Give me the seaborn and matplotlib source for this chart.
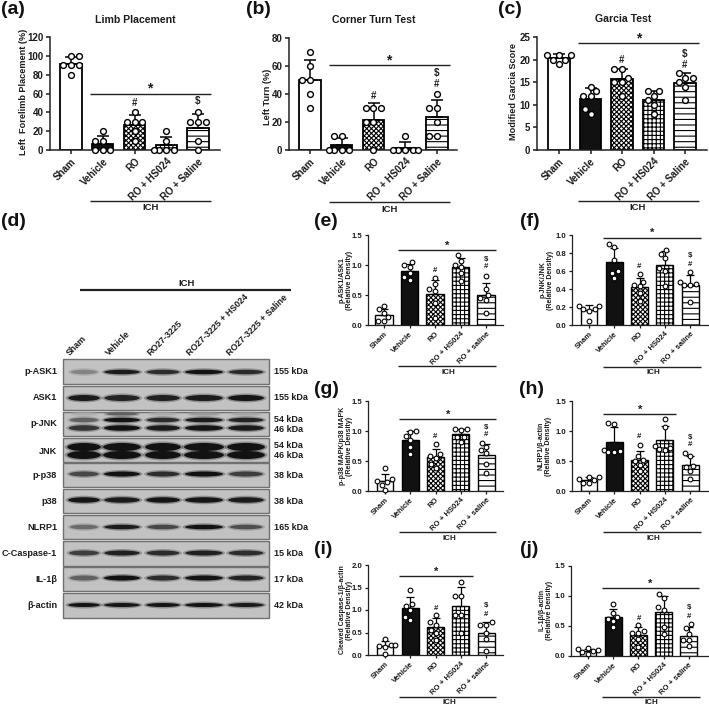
import warnings
import numpy as np
import pandas as pd
import matplotlib
matplotlib.use("Agg")
import matplotlib.pyplot as plt
import matplotlib.ticker
from matplotlib.patches import Ellipse, Rectangle
import seaborn as sns

warnings.filterwarnings("ignore")

# ------------------------------------------------------------ data
groups = ["Sham", "Vehicle", "RO", "RO + HS024", "RO + Saline"]
groups_lc = ["Sham", "Vehicle", "RO", "RO + HS024", "RO + saline"]

limb = [[100, 100, 90, 90, 90, 80], [20, 10, 10, 0, 0, 0], [40, 30, 30, 30, 20, 10],
        [20, 10, 0, 0, 0, 0], [40, 30, 30, 30, 10, 0]]
corner = [[70, 60, 50, 50, 40, 30], [10, 10, 0, 0, 0, 0], [30, 30, 30, 20, 20, 0],
          [10, 0, 0, 0, 0, 0], [40, 30, 30, 20, 10, 10]]
garcia = [[21, 21, 21, 20, 20, 19], [14, 13, 12, 12, 9, 8], [18, 18, 16, 15, 15, 12],
          [13, 13, 12, 11, 10, 8], [17, 16, 16, 15, 14, 11]]
ask1 = [[.31, .26, .2, .13, .06, .06], [1.05, 1.0, .96, .86, .8, .75], [.78, .68, .6, .56, .37, .12],
        [1.16, 1.07, 1.0, .97, .86, .73], [.82, .6, .5, .45, .41, .2]]
jnk = [[.21, .21, .18, .18, .16, .05], [.9, .87, .72, .6, .58, .52], [.57, .48, .44, .43, .36, .27],
       [.83, .79, .74, .63, .6, .43], [.59, .48, .46, .45, .44, .26]]
p38 = [[.38, .2, .17, .15, .1, .02], [1.0, .99, .92, .85, .74, .61], [.78, .62, .58, .55, .45, .38],
       [1.03, 1.03, 1.02, .9, .9, .82], [.8, .73, .68, .63, .45, .3]]
nlrp1 = [[.23, .23, .2, .18, .13, .13], [1.14, 1.12, .68, .66, .65, .65], [.77, .58, .52, .5, .44, .33],
         [1.2, 1.07, .75, .72, .7, .68], [.63, .58, .42, .4, .33, .2]]
casp1 = [[.35, .22, .22, .2, .17, .02], [1.45, 1.13, 1.1, 1.0, .85, .78], [.9, .74, .67, .56, .48, .33],
         [1.63, 1.32, 1.32, .9, .9, .48], [.73, .67, .67, .48, .35, .09]]
il1b = [[.13, .12, .1, .08, .07, .03], [.87, .72, .65, .62, .58, .48], [.51, .41, .39, .39, .29, .15],
        [1.03, .96, .81, .76, .49, .37], [.53, .46, .37, .26, .26, .16]]

# blot band intensity per lane
lanes = ["Sham", "Vehicle", "RO27-3225", "RO27-3225 + HS024", "RO27-3225 + Saline"]
blot_names = ["p-ASK1", "ASK1", "p-JNK", "JNK", "p-p38", "p38", "NLRP1", "C-Caspase-1", "IL-1β", "β-actin"]
blot_kda = ["155 kDa", "155 kDa", "54 kDa\n46 kDa", "54 kDa\n46 kDa", "38 kDa", "38 kDa",
            "165 kDa", "15 kDa", "17 kDa", "42 kDa"]
i_pask1 = [.35, .95, .85, 1, .85]
i_ask1 = [.95, .9, .92, .95, .98]
i_pjnk_top = [.12, .55, .12, .22, .15]
i_pjnk_54 = [.55, 1, .85, .95, .9]
i_pjnk_46 = [.8, 1, .95, .98, .95]
i_jnk = [1, 1, 1, 1, 1]
i_pp38 = [.7, 1, .85, 1, .75]
i_p38 = [.98, .95, .98, .98, .95]
i_nlrp1 = [.5, .95, .7, 1, .65]
i_casp = [.75, .92, .85, .92, .85]
i_il1b = [.55, 1, .85, .98, .9]
i_actin = [.98, .98, .98, 1, .95]

# ------------------------------------------------------------ style
sns.set_theme(style="ticks")
plt.rcParams["font.family"] = ["Liberation Sans", "DejaVu Sans"]
plt.rcParams["font.weight"] = "bold"
plt.rcParams["hatch.linewidth"] = 0.8
INK = "#1c1c1c"
W, H = 709, 707
fig = plt.figure(figsize=(7.09, 7.07), dpi=100)
ov = fig.add_axes([0, 0, 1, 1], zorder=5)
ov.set_xlim(0, W)
ov.set_ylim(H, 0)
ov.axis("off")
ov.patch.set_alpha(0)


def T(x, y, s, size=7, **kw):
    kw.setdefault("ha", "center")
    kw.setdefault("va", "center")
    kw.setdefault("color", INK)
    ov.text(x, y, s, fontsize=size, fontweight="bold", **kw)


def L(x0, x1, y, lw=1.0):
    ov.plot([x0, x1], [y, y], color="#222222", lw=lw, solid_capstyle="butt")


HATCH = [None, None, "xxxxxxx", "++++", "---"]
FILL = ["white", "#111111", "white", "white", "white"]


def panel(values, names, box, ymax, step, ylabel, ylab_xy, big, fmt="%g",
          hatch=HATCH):
    xl, xr, y0, yt, c0, s = box
    fs = 7 if big else 5.6
    ax = fig.add_axes([xl / W, 1 - y0 / H, (xr - xl) / W, (y0 - yt) / H])
    df = pd.DataFrame({"group": [names[i] for i, v in enumerate(values) for _ in v],
                       "value": [x for v in values for x in v]})
    sns.barplot(data=df, x="group", y="value", order=names, errorbar=None, ax=ax,
                color="white", width=0.67, edgecolor="black",
                linewidth=1.3 if big else 1.0)
    for p, h, f in zip(ax.patches, hatch, FILL):
        p.set_facecolor(f)
        p.set_edgecolor("black")
        if h:
            p.set_hatch(h)
    stats = df.groupby("group", sort=False)["value"].agg(["mean", "std"])
    ax.errorbar(range(5), stats["mean"], yerr=[np.zeros(5), stats["std"]], fmt="none",
                ecolor="black", elinewidth=1.1 if big else .9, capsize=4 if big else 3,
                capthick=1.1 if big else .9, zorder=4)
    sns.swarmplot(data=df, x="group", y="value", order=names, ax=ax, color="white",
                  edgecolor="black", linewidth=1.0 if big else .8, size=4.2 if big else 3.4,
                  zorder=6, clip_on=False)
    ax.set_xlim((xl - c0) / s, (xr - c0) / s)
    ax.set_ylim(0, ymax)
    ax.set_yticks(np.arange(0, ymax + step / 2, step))
    ax.yaxis.set_major_formatter(matplotlib.ticker.FormatStrFormatter(fmt))
    ax.set_xlabel("")
    ax.tick_params(axis="both", length=3.2 if big else 2.5, width=1.1 if big else .9,
                   labelsize=fs, pad=1.5, colors=INK)
    ax.set_xticks(range(5))
    ax.set_xticklabels(names, rotation=45, ha="right", rotation_mode="anchor", fontweight="bold")
    for t in ax.get_yticklabels():
        t.set_fontweight("bold")
    for sp in ("top", "right"):
        ax.spines[sp].set_visible(False)
    for sp in ("left", "bottom"):
        ax.spines[sp].set_linewidth(1.1 if big else .9)
        ax.spines[sp].set_color("#222222")
    ax.patch.set_alpha(0)
    ax.set_ylabel(ylabel, fontsize=6.6 if big else 5.0, fontweight="bold", color=INK,
                  ha="center", va="center", linespacing=1.05)
    ax.yaxis.set_label_coords(ylab_xy[0], ylab_xy[1], transform=ov.transData)
    return ax


panel(limb, groups, (50, 220, 150, 37, 71, 31.75), 120, 20, "Left  Forelimb Placement (%)", (24, 92), True)
panel(corner, groups, (289, 457, 150, 38, 310, 31.75), 80, 20, "Left Turn (%)", (267, 97), True)
panel(garcia, groups, (537, 707, 150, 37, 559, 31.5), 25, 5, "Modified Garcia Score", (514, 92), True)
panel(ask1, groups_lc, (368, 503, 325, 235, 384, 25.5), 1.5, .5, "p-ASK1/ASK1\n(Relative Density)", (346, 280), False, "%.1f")
panel(jnk, groups_lc, (572, 708, 325, 235, 589, 25.3), 1.0, .2, "p-JNK/JNK\n(Relative Density)", (547, 280), False, "%.1f")
panel(p38, groups_lc, (368, 503, 491, 401, 385, 25.3), 1.5, .5, "p-p38 MAPK/p38 MAPK\n(Relative Density)", (346, 446), False, "%.1f")
panel(nlrp1, groups_lc, (572, 708, 491, 401, 589, 25.3), 1.5, .5, "NLRP1/β-actin\n(Relative Density)", (545, 446), False, "%.1f")
panel(casp1, groups_lc, (368, 503, 655, 565, 385, 25.3), 2.0, .5, "Cleaved Caspase-1/β-actin\n(Relative Density)", (346, 610), False, "%.1f")
panel(il1b, groups_lc, (571, 708, 656, 566, 588, 25.2), 1.5, .5, "IL-1β/β-actin\n(Relative Density)", (546, 610), False, "%.1f")

# titles, panel letters
T(135, 20, "Limb Placement", 7.6)
T(374, 20, "Corner Turn Test", 7.6)
T(623, 19, "Garcia Test", 7.6)
for (x, y, s) in [(13, 10, "(a)"), (258, 10, "(b)"), (510, 10, "(c)"), (13, 222, "(d)"),
                  (326, 222, "(e)"), (530, 222, "(f)"), (326, 390, "(g)"), (531, 389, "(h)"),
                  (323, 549, "(i)"), (529, 549, "(j)")]:
    T(x, y, s, 14, color="#111111")

# significance marks: star line, star, ICH line, ICH text
sig = [
    (90, 211, 93.5, 150, 87, 90, 211, 201, 151, 208, True),
    (329, 450, 65, 389, 59, 329, 450, 202, 390, 209, True),
    (578, 699, 43, 639, 37, 578, 699, 201, 638, 208, True),
    (398, 496, 250, 447, 245, 398, 496, 366, 448, 372, False),
    (603, 701, 238, 652, 232, 603, 701, 367, 653, 373, False),
    (399, 496, 419, 448, 414, 399, 496, 532, 449, 538, False),
    (603, 676, 414, 640, 409, 603, 701, 532, 653, 538, False),
    (399, 473, 576, 436, 571, 399, 496, 697, 449, 703, False),
    (602, 699, 588, 650, 583, 602, 700, 697, 651, 703, False),
]
for a, b, y, sx, sy, ia, ib, iy, ix, ity, big in sig:
    L(a, b, y, 1.0)
    T(sx, sy + 1, "*", 10 if big else 8)
    L(ia, ib, iy, 1.0)
    T(ix, ity, "ICH", 6.8 if big else 5.8)

marks = [(135, 103, "#", 1), (198, 101, "$", 1), (374, 96, "#", 1), (437, 73, "$", 1), (437, 84, "#", 1),
         (622, 60, "#", 1), (685, 54, "$", 1), (685, 65, "#", 1),
         (435, 271, "#", 0), (486, 259, "$", 0), (486, 267, "#", 0),
         (639, 267, "#", 0), (690, 256, "$", 0), (690, 264, "#", 0),
         (435, 437, "#", 0), (486, 427, "$", 0), (486, 434, "#", 0),
         (639, 437, "#", 0), (690, 437, "$", 0), (690, 445, "#", 0),
         (436, 608, "#", 0), (486, 606, "$", 0), (486, 615, "#", 0),
         (639, 618, "#", 0), (689, 607, "$", 0), (689, 616, "#", 0)]
for x, y, s, big in marks:
    T(x, y, s, 7 if big else 5.6)

# ------------------------------------------------------------ blot (d)
L(80, 291, 290, 1.6)
T(187, 284, "ICH", 6.8)
lane_x = [84, 122, 163, 204, 246]
lane_w = [32, 36, 34, 38, 36]
for x, s in zip([71, 110, 152, 191, 231], lanes):
    T(x, 357, s, 6.4, rotation=45, ha="left", va="bottom", rotation_mode="anchor")

row_box = [(359, 384), (386, 410), (412, 436), (438, 462), (463, 487),
           (489, 513), (515, 539), (541, 566), (567, 591), (593, 618)]
row_bands = [
    [(372, 4.5, i_pask1)], [(398, 6, i_ask1)],
    [(414, 3, i_pjnk_top), (420, 4.5, i_pjnk_54), (428, 5.5, i_pjnk_46)],
    [(447, 8, i_jnk), (455, 8, i_jnk)],
    [(474, 5, i_pp38)], [(500, 5.5, i_p38)], [(527, 4.5, i_nlrp1)],
    [(553, 5, i_casp)], [(578, 5, i_il1b)], [(605, 4, i_actin)],
]
label_y = [371, 398, 424, 451, 476, 501, 527, 553, 580, 605]
panel_grey = np.array([.76, .76, .76])
band_dark = np.array([.07, .07, .07])
for box, bands, name, kda, ly in zip(row_box, row_bands, blot_names, blot_kda, label_y):
    ov.add_patch(Rectangle((63, box[0]), 206, box[1] - box[0], fc=panel_grey, ec="#707070", lw=1.0))
    for yc, ht, vals in bands:
        for x, w, v in zip(lane_x, lane_w, vals):
            wid = w * (0.75 + 0.25 * v) * (1.05 if ht >= 8 else 1)
            col = panel_grey + (band_dark - panel_grey) * v
            ov.add_patch(Ellipse((x, yc), wid + 5, ht + 3, fc=col, ec="none", alpha=.3))
            ov.add_patch(Ellipse((x, yc), wid, ht, fc=col, ec="none"))
    T(57, ly, name, 6.6, ha="right")
    if "\n" in kda:
        a, b = kda.split("\n")
        T(274, ly - 5, a, 6.5, ha="left")
        T(274, ly + 5, b, 6.5, ha="left")
    else:
        T(274, ly, kda, 6.5, ha="left")

fig.savefig("out.png", dpi=100)
